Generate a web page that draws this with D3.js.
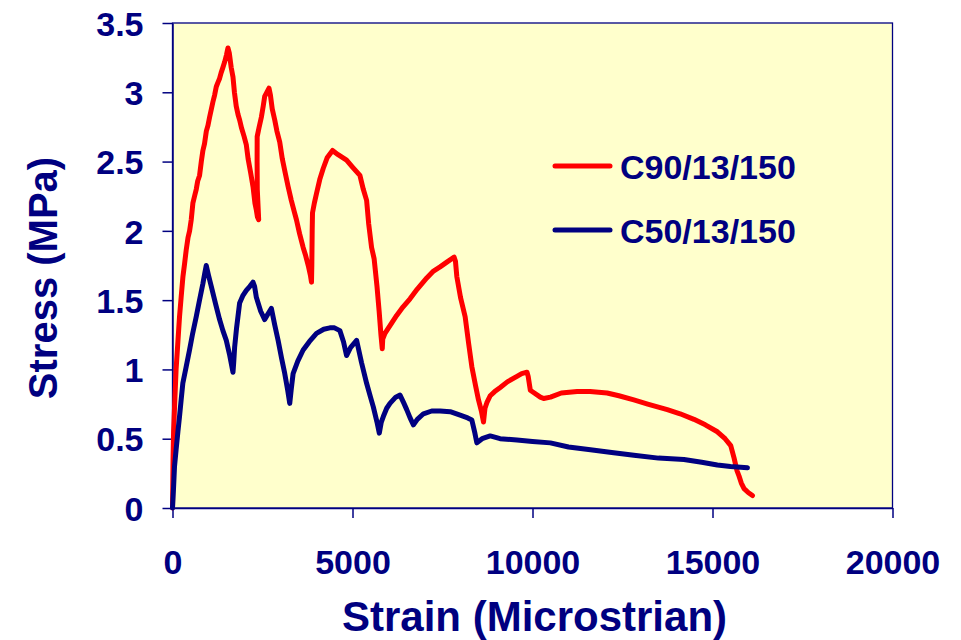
<!DOCTYPE html>
<html>
<head>
<meta charset="utf-8">
<script src="https://cdn.jsdelivr.net/npm/d3@7"></script>
<style>
  html, body { margin: 0; padding: 0; background: #ffffff; }
  svg { display: block; }
  text { font-family: "Liberation Sans", Arial, sans-serif; font-weight: bold; fill: #000080; }
</style>
</head>
<body>
<svg id="chart" width="961" height="640"></svg>
<script>
// Stress-strain curves: [strain (microstrain), stress (MPa)]
const seriesNames = ["C90/13/150", "C50/13/150"];
const seriesColors = ["#ff0000", "#000080"];

const c90 = [
  [0,0],[15,0.35],[30,0.55],[60,0.75],[100,1.0],[150,1.2],[195,1.38],[240,1.52],[290,1.67],
  [334,1.76],[380,1.86],[430,1.95],[475,2.0],[520,2.08],[566,2.2],[612,2.25],[660,2.3],
  [700,2.36],[752,2.4],[800,2.5],[845,2.58],[890,2.63],[940,2.72],[985,2.76],[1030,2.82],
  [1080,2.88],[1122,2.93],[1170,2.98],[1216,3.04],[1260,3.07],[1308,3.1],[1350,3.14],
  [1401,3.18],[1450,3.22],[1500,3.27],[1540,3.32],[1580,3.28],[1630,3.18],[1680,3.11],
  [1720,3.0],[1770,2.9],[1820,2.84],[1865,2.8],[1920,2.74],[1990,2.68],[2051,2.62],
  [2100,2.52],[2170,2.42],[2236,2.32],[2290,2.2],[2329,2.15],[2360,2.1],[2394,2.08],
  [2380,2.16],[2355,2.3],[2350,2.5],[2352,2.68],[2400,2.74],[2468,2.82],[2520,2.9],
  [2561,2.97],[2620,3.0],[2681,3.03],[2720,2.98],[2770,2.88],[2840,2.8],[2900,2.72],
  [2979,2.64],[3050,2.52],[3130,2.42],[3211,2.32],[3300,2.22],[3380,2.14],[3443,2.08],
  [3530,1.98],[3629,1.88],[3700,1.82],[3780,1.74],[3830,1.68],[3861,1.63],[3870,1.75],
  [3880,2.0],[3889,2.13],[3940,2.2],[4000,2.27],[4090,2.37],[4186,2.45],[4300,2.53],
  [4446,2.58],[4600,2.55],[4835,2.51],[5000,2.46],[5206,2.4],[5300,2.3],[5392,2.22],
  [5450,2.05],[5530,1.88],[5600,1.8],[5680,1.6],[5740,1.42],[5790,1.25],[5827,1.15],
  [5840,1.22],[5902,1.26],[6000,1.3],[6100,1.34],[6227,1.39],[6400,1.45],[6598,1.51],
  [6800,1.58],[7063,1.66],[7250,1.71],[7433,1.74],[7650,1.78],[7823,1.81],[7860,1.78],
  [7898,1.67],[8000,1.52],[8129,1.38],[8230,1.18],[8315,1.02],[8420,0.88],[8500,0.78],
  [8580,0.7],[8639,0.62],[8680,0.72],[8732,0.76],[8825,0.81],[8950,0.84],[9104,0.87],
  [9300,0.91],[9568,0.95],[9700,0.97],[9847,0.98],[9880,0.95],[9939,0.85],[10050,0.83],
  [10217,0.8],[10310,0.79],[10500,0.8],[10800,0.83],[11239,0.84],[11600,0.84],
  [12074,0.83],[12400,0.81],[12815,0.78],[13200,0.75],[13744,0.71],[14100,0.68],
  [14485,0.64],[14800,0.6],[15135,0.55],[15350,0.5],[15507,0.45],[15600,0.36],
  [15680,0.27],[15738,0.23],[15800,0.18],[15877,0.14],[16000,0.11],[16110,0.09]
];

const c50 = [
  [0,0],[30,0.15],[56,0.3],[100,0.42],[150,0.55],[195,0.66],[240,0.78],[287,0.9],
  [380,1.02],[473,1.14],[560,1.26],[659,1.38],[750,1.5],[845,1.62],[900,1.7],[938,1.75],
  [1000,1.68],[1077,1.6],[1200,1.47],[1308,1.36],[1400,1.28],[1494,1.21],[1590,1.1],
  [1680,0.98],[1700,1.05],[1726,1.16],[1780,1.3],[1865,1.48],[1950,1.53],[2051,1.57],
  [2150,1.6],[2236,1.63],[2280,1.6],[2329,1.52],[2450,1.42],[2561,1.36],[2650,1.4],
  [2747,1.44],[2840,1.32],[2933,1.21],[3030,1.08],[3118,0.97],[3200,0.85],[3257,0.755],
  [3300,0.86],[3350,0.97],[3480,1.06],[3629,1.14],[3800,1.2],[4000,1.26],[4200,1.29],
  [4371,1.3],[4500,1.3],[4649,1.28],[4750,1.2],[4835,1.1],[4950,1.16],[5114,1.21],
  [5250,1.05],[5392,0.9],[5500,0.8],[5578,0.73],[5680,0.62],[5745,0.54],[5800,0.62],
  [5856,0.66],[5950,0.72],[6041,0.755],[6200,0.8],[6320,0.815],[6420,0.76],[6506,0.71],
  [6600,0.65],[6692,0.6],[6800,0.64],[6970,0.68],[7200,0.7],[7433,0.7],[7712,0.695],
  [7990,0.67],[8200,0.65],[8315,0.635],[8400,0.54],[8454,0.47],[8600,0.5],[8825,0.52],
  [9100,0.5],[9568,0.49],[10000,0.48],[10496,0.47],[11000,0.44],[11610,0.42],[12200,0.4],
  [12815,0.38],[13500,0.36],[14207,0.35],[14700,0.33],[15135,0.31],[15500,0.3],[15971,0.29]
];

const xTicks = [0, 5000, 10000, 15000, 20000];
const yTicks = [0, 0.5, 1, 1.5, 2, 2.5, 3, 3.5];
const xTitle = "Strain (Microstrian)";
const yTitle = "Stress (MPa)";

const svg = d3.select("#chart");
const plot = { left: 172.5, right: 892.5, top: 23, bottom: 508 };
const navy = "#000080";

const x = d3.scaleLinear().domain([0, 20000]).range([plot.left, plot.right]);
const y = d3.scaleLinear().domain([0, 3.5]).range([plot.bottom, plot.top]);

// plot area background and frame
svg.append("rect")
  .attr("x", plot.left).attr("y", plot.top)
  .attr("width", plot.right - plot.left).attr("height", plot.bottom - plot.top)
  .attr("fill", "#ffffcc")
  .attr("stroke", navy).attr("stroke-width", 1.3);

// y axis
const yAxis = svg.append("g")
  .attr("transform", `translate(${plot.left},0)`)
  .call(d3.axisLeft(y).tickValues(yTicks).tickFormat(d3.format("")).tickSize(10).tickSizeOuter(0).tickPadding(19));
yAxis.select(".domain").attr("stroke", navy).attr("stroke-width", 1.5);
yAxis.selectAll(".tick line").attr("stroke", navy).attr("stroke-width", 1.5);
yAxis.selectAll(".tick text")
  .attr("font-size", 34).attr("fill", navy).attr("dy", "0.36em")
  .style("font-family", '"Liberation Sans", Arial, sans-serif').style("font-weight", "bold");

// x axis
const xAxis = svg.append("g")
  .attr("transform", `translate(0,${plot.bottom})`)
  .call(d3.axisBottom(x).tickValues(xTicks).tickFormat(d3.format("d")).tickSize(10).tickSizeOuter(0));
xAxis.select(".domain").attr("stroke", navy).attr("stroke-width", 1.5);
xAxis.selectAll(".tick line").attr("stroke", navy).attr("stroke-width", 1.5);
xAxis.selectAll(".tick text")
  .attr("font-size", 34).attr("fill", navy).attr("y", 66).attr("dy", 0)
  .style("font-family", '"Liberation Sans", Arial, sans-serif').style("font-weight", "bold");

// axis titles
svg.append("text")
  .attr("x", (plot.left + plot.right) / 2 + 2).attr("y", 631)
  .attr("text-anchor", "middle").attr("font-size", 42)
  .text(xTitle);

svg.append("text")
  .attr("transform", "translate(57,278) rotate(-90)")
  .attr("text-anchor", "middle").attr("font-size", 40)
  .text(yTitle);

// curves
const line = d3.line().x(d => x(d[0])).y(d => y(d[1]));
[c90, c50].forEach((data, i) => {
  svg.append("path")
    .datum(data)
    .attr("d", line)
    .attr("fill", "none")
    .attr("stroke", seriesColors[i])
    .attr("stroke-width", 5)
    .attr("stroke-linejoin", "round")
    .attr("stroke-linecap", "round");
});

// legend
const legend = svg.append("g");
seriesNames.forEach((name, i) => {
  const ly = 166 + i * 64;
  legend.append("line")
    .attr("x1", 555).attr("x2", 610).attr("y1", ly).attr("y2", ly)
    .attr("stroke", seriesColors[i]).attr("stroke-width", 5)
    .attr("stroke-linecap", "round");
  legend.append("text")
    .attr("x", 620).attr("y", ly + 13)
    .attr("font-size", 34)
    .text(name);
});
</script>
</body>
</html>
